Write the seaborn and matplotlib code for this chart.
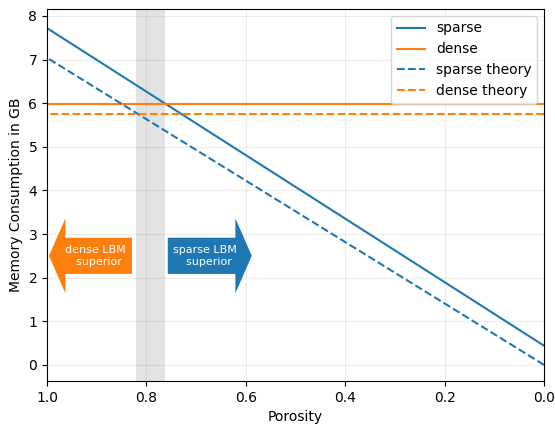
import matplotlib
matplotlib.use("Agg")
import matplotlib.pyplot as plt
import seaborn as sns
import pandas as pd

porosity = [1.0, 0.0]
sparse = [7.72, 0.44]
dense = [5.99, 5.99]
sparse_theory = [7.04, 0.0]
dense_theory = [5.76, 5.76]
crossover = (0.763, 0.820)

blue = "#1f77b4"
orange = "#ff7f0e"

fig = plt.figure(figsize=(5.55, 4.25), dpi=100)
ax = fig.add_axes([0.0847, 0.1035, 0.8955, 0.8755])

series = [("sparse", sparse, blue, "-"), ("dense", dense, orange, "-"),
          ("sparse theory", sparse_theory, blue, "--"), ("dense theory", dense_theory, orange, "--")]
for name, vals, c, ls in series:
    df = pd.DataFrame({"porosity": porosity, "mem": vals})
    sns.lineplot(data=df, x="porosity", y="mem", ax=ax, color=c, linestyle=ls, label=name, linewidth=1.5)

ax.axvspan(crossover[0], crossover[1], color="0.5", alpha=0.22, lw=0, zorder=0)

# arrows
ax.arrow(0.829, 2.5, 0.167, 0, width=0.83, head_width=1.72, head_length=0.033,
         length_includes_head=True, fc=orange, ec="none", lw=0, zorder=3)
ax.arrow(0.757, 2.5, -0.169, 0, width=0.83, head_width=1.72, head_length=0.033,
         length_includes_head=True, fc=blue, ec="none", lw=0, zorder=3)

ax.text(0.903, 2.5, "dense LBM\n  superior", ha="center", va="center", multialignment="center",
        color="white", fontsize=8, zorder=4)
ax.text(0.682, 2.5, "sparse LBM\n  superior", ha="center", va="center", multialignment="center",
        color="white", fontsize=8, zorder=4)

ax.set_xlim(1.0, 0.0)
ax.set_ylim(-0.37, 8.16)
ax.set_xlabel("Porosity")
ax.set_ylabel("Memory Consumption in GB")
ax.grid(True, color="0.5", alpha=0.15)
ax.legend(loc="upper right")
fig.savefig("out.png", dpi=100)
